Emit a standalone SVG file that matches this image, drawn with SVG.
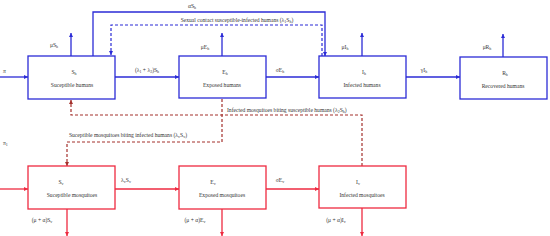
<svg xmlns="http://www.w3.org/2000/svg" width="550" height="236" viewBox="0 0 550 236">
<style>
.t{font-family:"Liberation Serif","Times New Roman",serif;font-size:5.6px;fill:#333}
.c{text-anchor:middle}
.hb{fill:#fff;stroke:#2b2bd6;stroke-width:1.3}
.vb{fill:#fff;stroke:#ee2a40;stroke-width:1.3}
.bl{fill:none;stroke:#2b2bd6;stroke-width:1.3}
.bd{fill:none;stroke:#2b2bd6;stroke-width:1.2;stroke-dasharray:3,2}
.rl{fill:none;stroke:#ee2a40;stroke-width:1.3}
.rd{fill:none;stroke:#a4302c;stroke-width:1.2;stroke-dasharray:3,2}
</style>
<defs>
<marker id="ab" viewBox="0 0 10 10" refX="10" refY="5" markerWidth="4" markerHeight="4" orient="auto" markerUnits="userSpaceOnUse"><path d="M0,0L10,5L0,10z" fill="#2b2bd6"/></marker>
<marker id="ar" viewBox="0 0 10 10" refX="10" refY="5" markerWidth="4" markerHeight="4" orient="auto" markerUnits="userSpaceOnUse"><path d="M0,0L10,5L0,10z" fill="#ee2a40"/></marker>
<marker id="ad" viewBox="0 0 10 10" refX="10" refY="5" markerWidth="4" markerHeight="4" orient="auto" markerUnits="userSpaceOnUse"><path d="M0,0L10,5L0,10z" fill="#a4302c"/></marker>
</defs>
<g id="connectors">
<path class="bl" d="M93,56V12H325V56" marker-end="url(#ab)"/>
<text class="t c" x="192" y="8">αS<tspan font-size="4" dy="1">h</tspan></text>
<path class="bd" d="M322,56V25H111V55" marker-end="url(#ab)"/>
<text class="t c" x="237" y="22">Sexual contact susceptible-infected humans (λ<tspan font-size="4" dy="1">1</tspan><tspan dy="-1">S</tspan><tspan font-size="4" dy="1">h</tspan><tspan dy="-1">)</tspan></text>
<path class="bl" d="M0,77H28" marker-end="url(#ab)"/>
<text class="t" x="3" y="73" font-style="italic">π</text>
<path class="bl" d="M71,56V33" marker-end="url(#ab)"/>
<text class="t c" x="54" y="47">μS<tspan font-size="4" dy="1">h</tspan></text>
<path class="bl" d="M222,56V33" marker-end="url(#ab)"/>
<text class="t c" x="205" y="49">μE<tspan font-size="4" dy="1">h</tspan></text>
<path class="bl" d="M362,56V33" marker-end="url(#ab)"/>
<text class="t c" x="345" y="49">μI<tspan font-size="4" dy="1">h</tspan></text>
<path class="bl" d="M503,57V34" marker-end="url(#ab)"/>
<text class="t c" x="487" y="49">μR<tspan font-size="4" dy="1">h</tspan></text>
<path class="bl" d="M115,77H179" marker-end="url(#ab)"/>
<text class="t c" x="147" y="72">(λ<tspan font-size="4" dy="1">1</tspan><tspan dy="-1"> + λ</tspan><tspan font-size="4" dy="1">2</tspan><tspan dy="-1">)S</tspan><tspan font-size="4" dy="1">h</tspan></text>
<path class="bl" d="M266,77H319" marker-end="url(#ab)"/>
<text class="t c" x="280" y="72">σE<tspan font-size="4" dy="1">h</tspan></text>
<path class="bl" d="M406,77H460" marker-end="url(#ab)"/>
<text class="t c" x="424" y="72">γI<tspan font-size="4" dy="1">h</tspan></text>
<path class="rd" d="M362,166V115H71V100" marker-end="url(#ad)"/>
<text class="t" x="227" y="112">Infected mosquitoes biting susceptible humans (λ<tspan font-size="4" dy="1">2</tspan><tspan dy="-1">S</tspan><tspan font-size="4" dy="1">h</tspan><tspan dy="-1">)</tspan></text>
<path class="rd" d="M222,99V142H67V166" marker-end="url(#ad)"/>
<text class="t c" x="128" y="137">Suceptible mosquitoes biting infected humans (λ<tspan font-size="4" dy="1">v</tspan><tspan dy="-1">S</tspan><tspan font-size="4" dy="1">v</tspan><tspan dy="-1">)</tspan></text>
<path class="rl" d="M0,189H28" marker-end="url(#ar)"/>
<text class="t" x="3" y="145">π<tspan font-size="4" dy="1">1</tspan></text>
<path class="rl" d="M115,189H179" marker-end="url(#ar)"/>
<text class="t c" x="126" y="182">λ<tspan font-size="4" dy="1">v</tspan><tspan dy="-1">S</tspan><tspan font-size="4" dy="1">v</tspan></text>
<path class="rl" d="M266,189H319" marker-end="url(#ar)"/>
<text class="t c" x="280" y="182">σE<tspan font-size="4" dy="1">v</tspan></text>
<path class="rl" d="M67,209V236" marker-end="url(#ar)"/>
<text class="t c" x="42" y="222">(μ + α)S<tspan font-size="4" dy="1">v</tspan></text>
<path class="rl" d="M222,209V236" marker-end="url(#ar)"/>
<text class="t c" x="195" y="222">(μ + α)E<tspan font-size="4" dy="1">v</tspan></text>
<path class="rl" d="M362,208V236" marker-end="url(#ar)"/>
<text class="t c" x="336" y="222">(μ + α)I<tspan font-size="4" dy="1">v</tspan></text>
</g>
<g id="Sh"><rect class="hb" x="28" y="56" width="87" height="43"/><text class="t c" x="74" y="74">S<tspan font-size="4" dy="1">h</tspan></text><text class="t c" x="72" y="87">Suceptible humans</text></g>
<g id="Eh"><rect class="hb" x="179" y="56" width="87" height="42"/><text class="t c" x="225" y="74">E<tspan font-size="4" dy="1">h</tspan></text><text class="t c" x="222" y="87">Exposed humans</text></g>
<g id="Ih"><rect class="hb" x="319" y="56" width="87" height="42"/><text class="t c" x="364" y="74">I<tspan font-size="4" dy="1">h</tspan></text><text class="t c" x="362" y="87">Infected humans</text></g>
<g id="Rh"><rect class="hb" x="460" y="57" width="87" height="42"/><text class="t c" x="505" y="75">R<tspan font-size="4" dy="1">h</tspan></text><text class="t c" x="503" y="88">Recovered humans</text></g>
<g id="Sv"><rect class="vb" x="28" y="166" width="87" height="43"/><text class="t c" x="61" y="184">S<tspan font-size="4" dy="1">v</tspan></text><text class="t c" x="72" y="197">Suceptible mosquitoes</text></g>
<g id="Ev"><rect class="vb" x="179" y="166" width="87" height="43"/><text class="t c" x="213" y="184">E<tspan font-size="4" dy="1">v</tspan></text><text class="t c" x="222" y="197">Exposed mosquitoes</text></g>
<g id="Iv"><rect class="vb" x="319" y="166" width="87" height="42"/><text class="t c" x="358" y="184">I<tspan font-size="4" dy="1">v</tspan></text><text class="t c" x="362" y="197">Infected mosquitoes</text></g>
</svg>
